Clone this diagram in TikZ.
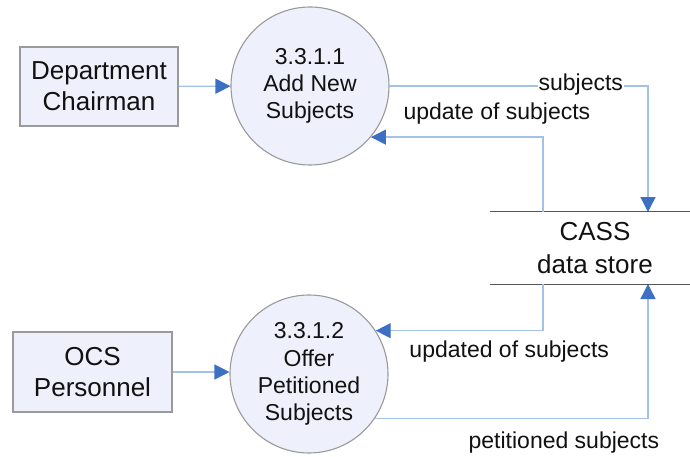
\documentclass[tikz,border=0pt]{standalone}
\usepackage{fontspec}
\setmainfont{Liberation Sans}
\usetikzlibrary{arrows.meta,calc}
\definecolor{boxfill}{HTML}{EEF0FC}
\definecolor{boxedge}{HTML}{9A9A9A}
\definecolor{flowline}{HTML}{A4C2E8}
\definecolor{flowhead}{HTML}{3D6FC2}
\definecolor{storeedge}{HTML}{555555}
\definecolor{ink}{HTML}{111111}
\begin{document}
\begin{tikzpicture}[x=1pt,y=-1pt,
  entity/.style={draw=boxedge, line width=1.2pt, fill=boxfill, minimum width=158pt,
    minimum height=79pt, inner sep=0pt, align=center, text=ink,
    font=\fontsize{26}{31}\selectfont},
  process/.style={circle, draw=boxedge, line width=1.1pt, fill=boxfill, minimum size=158pt,
    inner sep=0pt, align=center, text=ink, font=\fontsize{23}{27.2}\selectfont},
  storebox/.style={minimum width=210pt, minimum height=72pt, inner sep=0pt, align=center,
    text=ink, font=\fontsize{26}{33}\selectfont},
  storeline/.style={draw=storeedge, line width=1.1pt},
  flow/.style={draw=flowline, line width=1.3pt,
    -{Triangle[length=15pt,width=15pt,color=flowhead]}},
  lbl/.style={text=ink, font=\fontsize{23}{27}\selectfont, inner sep=1pt}]
\useasboundingbox (0,0) rectangle (690,457);

% external entities
\node[entity] (dept) at (99,86.5) {Department\\Chairman};
\node[entity, minimum width=159pt, minimum height=80pt] (ocs) at (92.5,372) {OCS\\Personnel};

% processes
\node[process] (p1) at (310,86) {3.3.1.1\\Add New\\Subjects};
\node[process] (p2) at (309,374) {3.3.1.2\\Offer\\Petitioned\\Subjects};

% data store: open box drawn as two horizontal rules
\node[storebox] (store) at (595,248) {CASS\\data store};
\draw[storeline] (store.north west) -- (store.north east);
\draw[storeline] (store.south west) -- (store.south east);

% attachment points on the store
\coordinate (subIn)  at (648,212);
\coordinate (updOut) at (543,212);
\coordinate (updOut2) at (543,284);
\coordinate (petIn)  at (648,284);

% data flows
\draw[flow] (dept) -- (p1);
\draw[flow] (ocs.east) -- (ocs.east -| p2.west);
\draw[flow] (p1.east) -| node[lbl, fill=white, pos=0.37, yshift=1pt] (lsub) {subjects} (subIn);
\draw[flow] (updOut) |- node[lbl, pos=0.634, yshift=24pt] (lupd) {update of subjects} (p1.-40);
\draw[flow] (updOut2) |- node[lbl, pos=0.601, yshift=-21pt] (lupd2) {updated of subjects} (p2.33);
\draw[flow] (p2.-34) -| node[lbl, pos=0.346, yshift=-24pt] (lpet) {petitioned subjects} (petIn);
\end{tikzpicture}
\end{document}
